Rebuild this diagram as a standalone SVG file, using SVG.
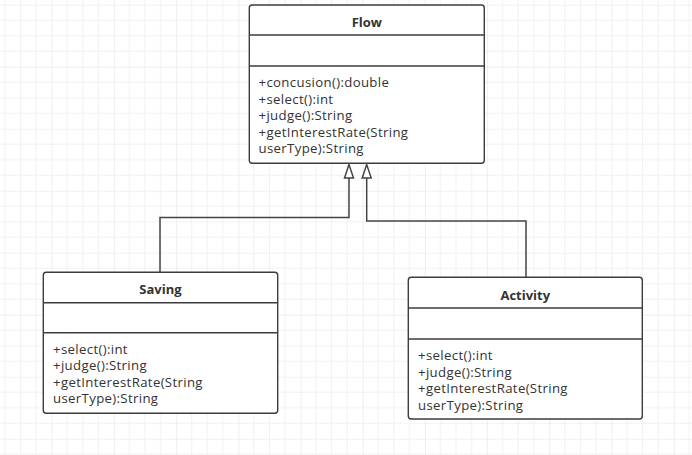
<svg xmlns="http://www.w3.org/2000/svg" width="692" height="455" viewBox="0 0 692 455">
<style>
.box{fill:#ffffff;stroke:#3c3c3c;stroke-width:1.4}
.div{stroke:#3c3c3c;stroke-width:1.4}
.title{font-family:"Open Sans","Noto Sans",sans-serif;font-size:13px;font-weight:bold;fill:#333333;text-anchor:middle}
.m{font-family:"Open Sans","Noto Sans",sans-serif;font-size:13.2px;letter-spacing:0.35px;fill:#333333}
.edge{fill:none;stroke:#444444;stroke-width:1.5}
</style>
<defs>
<pattern id="grid" x="-10.5" y="4.7" width="62.2" height="62" patternUnits="userSpaceOnUse">
<path d="M15.55 0V62M31.1 0V62M46.65 0V62M0 15.5H62.2M0 31H62.2M0 46.5H62.2" stroke="#f1f1f1" stroke-width="1"/>
<path d="M0 0V62M0 0H62.2" stroke="#e4e4e4" stroke-width="1.2"/>
</pattern>
</defs>
<rect width="692" height="455" fill="#ffffff"/>
<rect width="692" height="455" fill="url(#grid)"/>
<g id="connectors">
<path class="edge" d="M160 272V217.5H349V178"/>
<path class="edge" d="M526 277.5V221H366.7V178"/>
<polygon points="349,164.5 344.5,178 353.5,178" fill="#ffffff" stroke="#444444" stroke-width="1.5"/>
<polygon points="366.7,164.5 362.2,178 371.2,178" fill="#ffffff" stroke="#444444" stroke-width="1.5"/>
</g>
<g id="Flow">
<rect class="box" x="249.3" y="5" width="235" height="158.3" rx="3"/>
<line class="div" x1="249.3" y1="35" x2="484.3" y2="35"/>
<line class="div" x1="249.3" y1="66" x2="484.3" y2="66"/>
<text class="title" x="366.8" y="26.5">Flow</text>
<text class="m" x="258.5" y="87">+concusion():double</text>
<text class="m" x="258.5" y="103.5">+select():int</text>
<text class="m" x="258.5" y="120">+judge():String</text>
<text class="m" x="258.5" y="136.5">+getInterestRate(String</text>
<text class="m" x="258.5" y="153">userType):String</text>
</g>
<g id="Saving">
<rect class="box" x="43.3" y="272.3" width="234.4" height="141" rx="3"/>
<line class="div" x1="43.3" y1="302.7" x2="277.7" y2="302.7"/>
<line class="div" x1="43.3" y1="332.7" x2="277.7" y2="332.7"/>
<text class="title" x="160.5" y="293.5">Saving</text>
<text class="m" x="53" y="353.5">+select():int</text>
<text class="m" x="53" y="370">+judge():String</text>
<text class="m" x="53" y="386.5">+getInterestRate(String</text>
<text class="m" x="53" y="403">userType):String</text>
</g>
<g id="Activity">
<rect class="box" x="408.3" y="277.3" width="234" height="141.7" rx="3"/>
<line class="div" x1="408.3" y1="308" x2="642.3" y2="308"/>
<line class="div" x1="408.3" y1="339" x2="642.3" y2="339"/>
<text class="title" x="525.3" y="299.5">Activity</text>
<text class="m" x="418" y="360">+select():int</text>
<text class="m" x="418" y="376.5">+judge():String</text>
<text class="m" x="418" y="393">+getInterestRate(String</text>
<text class="m" x="418" y="409.5">userType):String</text>
</g>
</svg>
